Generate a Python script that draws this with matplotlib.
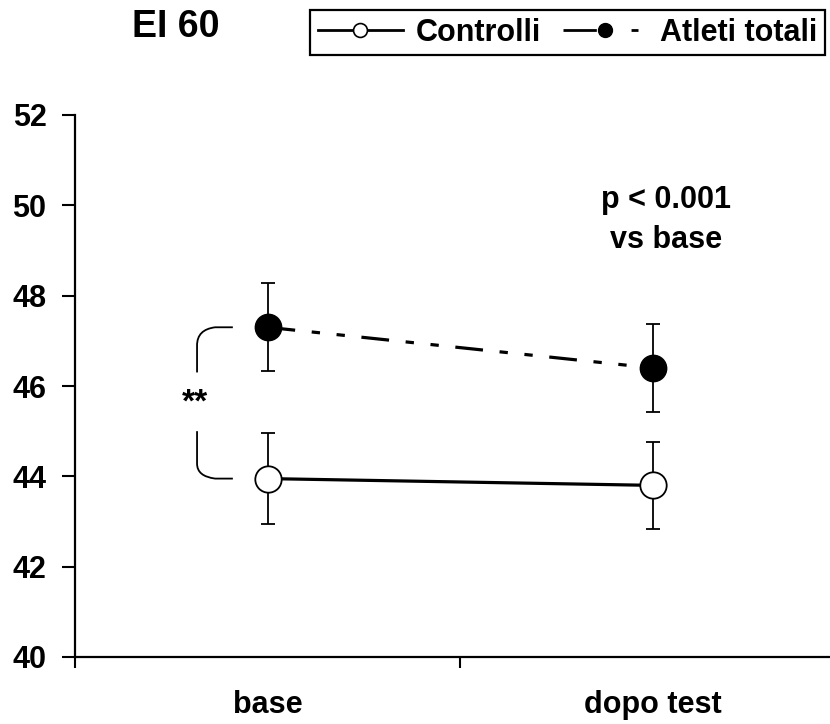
import matplotlib
matplotlib.use("Agg")
import matplotlib.pyplot as plt
from matplotlib.lines import Line2D
from matplotlib.path import Path
from matplotlib.patches import PathPatch

plt.rcParams['font.family'] = ['Liberation Sans', 'DejaVu Sans']
plt.rcParams['font.weight'] = 'bold'
plt.rcParams['lines.scale_dashes'] = False

# data
groups = ['base', 'dopo test']
ctrl = [43.95, 43.8]
ctrl_err = [1.0, 0.97]
atleti = [47.3, 46.4]
atleti_err = [0.97, 0.97]
yticks = [40, 42, 44, 46, 48, 50, 52]

fig = plt.figure(figsize=(8.3, 7.24), dpi=100)
ax = fig.add_axes([75 / 830, 1 - 657 / 724, 770 / 830, 542 / 724])

xpos = [0.5, 1.5]

ax.errorbar(xpos, ctrl, yerr=ctrl_err, fmt='none', ecolor='black',
            elinewidth=1.3, capsize=4.7, capthick=1.3, zorder=2)
ax.errorbar(xpos, atleti, yerr=atleti_err, fmt='none', ecolor='black',
            elinewidth=1.3, capsize=4.7, capthick=1.3, zorder=2)

ax.plot(xpos, ctrl, color='black', lw=2.3, marker='o', ms=19,
        mfc='white', mec='black', mew=1.3, zorder=3)
ax.plot(xpos, atleti, color='black', lw=2.3, marker='o', ms=19,
        mfc='black', mec='black', dashes=[20, 12, 6, 12, 6, 12], zorder=3)

# bracket with ** between the two base points
xl, xm, xr = 0.317, 0.364, 0.41
ytop, ybot = atleti[0], ctrl[0]
verts = [(xr, ytop), (xm, ytop), (xl, ytop - 0.05), (xl, ytop - 0.4),
         (xl, ytop - 1.0),
         (xl, ybot + 1.05), (xl, ybot + 0.33), (xl, ybot + 0.05), (xm, ybot), (xr, ybot)]
codes = [Path.MOVETO, Path.LINETO, Path.CURVE3, Path.CURVE3, Path.LINETO,
         Path.MOVETO, Path.LINETO, Path.CURVE3, Path.CURVE3, Path.LINETO]
ax.add_patch(PathPatch(Path(verts, codes), fill=False, lw=1.3, ec='black'))
ax.text(xl - 0.005, 45.62, '**', ha='center', va='center',
        fontsize=24, fontweight='bold')

ax.text(1.535, 49.68, 'p < 0.001\nvs base', ha='center', va='center',
        fontsize=22, fontweight='bold', linespacing=1.45)

ax.set_xlim(0, 2)
ax.set_ylim(40, 52)
ax.set_yticks(yticks)
ax.set_yticklabels([str(v) for v in yticks])
ax.set_xticks([0, 1, 2])
ax.set_xticklabels([])
ax.set_xticks(xpos, minor=True)
ax.set_xticklabels(groups, minor=True)
ax.tick_params(axis='x', which='major', length=8, width=1.5, direction='out')
ax.tick_params(axis='x', which='minor', length=0, pad=24, labelsize=22)
ax.tick_params(axis='y', length=9.5, width=1.5, direction='out', pad=11, labelsize=22)
for s in ['top', 'right']:
    ax.spines[s].set_visible(False)
for s in ['left', 'bottom']:
    ax.spines[s].set_linewidth(1.6)

fig.text(176 / 830, 1 - 27 / 724, 'EI 60', ha='center', va='center',
         fontsize=27, fontweight='bold')

h1 = Line2D([], [], color='black', lw=2, marker='o', ms=10, mfc='white', mec='black', mew=1.2)
h2 = Line2D([], [], color='black', lw=2, marker='o', ms=10, mfc='black', mec='black',
            dashes=[24, 25, 5, 30])
leg = fig.legend([h1, h2], ['Controlli', 'Atleti totali'], ncol=2, loc='upper left',
                 bbox_to_anchor=(310 / 830, 1 - 10 / 724), fontsize=22,
                 frameon=True, fancybox=False, edgecolor='black', framealpha=1,
                 handlelength=2.8, handletextpad=0.4, columnspacing=0.72,
                 borderpad=0.25, borderaxespad=0, numpoints=1)
leg.get_frame().set_linewidth(1.6)

fig.savefig('out.png', dpi=100)
